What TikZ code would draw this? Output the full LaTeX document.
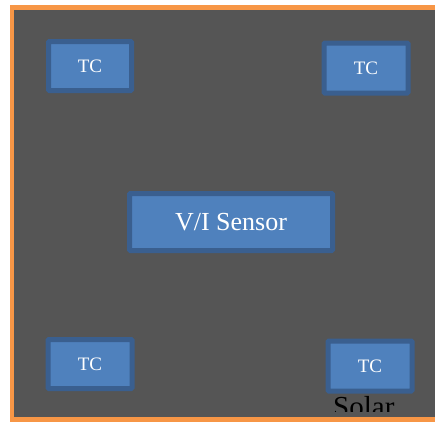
\documentclass[tikz,border=0pt]{standalone}
\usepackage{fontspec}
\setmainfont{Liberation Serif}
\usepackage{tikz}
\usetikzlibrary{positioning}

\definecolor{panelgray}{RGB}{85,85,85}
\definecolor{frameorange}{RGB}{247,150,70}
\definecolor{boxblue}{RGB}{79,129,189}
\definecolor{boxedge}{RGB}{58,95,143}

\begin{document}
\begin{tikzpicture}[x=1bp, y=-1bp,
    tcbox/.style={draw=boxedge, fill=boxblue, line width=5bp, rounded corners=1bp,
        minimum width=83bp, minimum height=49bp, inner sep=0pt,
        text=white, font=\fontsize{19bp}{22bp}\selectfont},
    sensorbox/.style={tcbox, minimum width=203bp, minimum height=57bp,
        font=\fontsize{26bp}{30bp}\selectfont}]
    % page and panel
    \clip (0,0) rectangle (435,422);
    \fill[white] (0,0) rectangle (435,422);
    \draw[frameorange, fill=panelgray, line width=4.5bp] (12,7.5) rectangle (460,419.5);

    % thermocouples and sensor
    \node[tcbox] (tcTL) at (90,66) {TC};
    \node[tcbox, minimum width=84bp, minimum height=50bp] (tcTR) at (366,68) {TC};
    \node[tcbox, minimum width=84bp] (tcBL) at (90,364) {TC};
    \node[tcbox, minimum width=84bp, minimum height=50bp] (tcBR) at (370,366) {TC};
    \node[sensorbox] (vis) at (231,222) {V/I Sensor};

    % cut-off label
    \begin{scope}
        \clip (300,380) rectangle (435,411);
        \node[anchor=base west, inner sep=0pt, font=\fontsize{29bp}{33bp}\selectfont] (solar) at (333,416) {Solar};
    \end{scope}
\end{tikzpicture}
\end{document}
